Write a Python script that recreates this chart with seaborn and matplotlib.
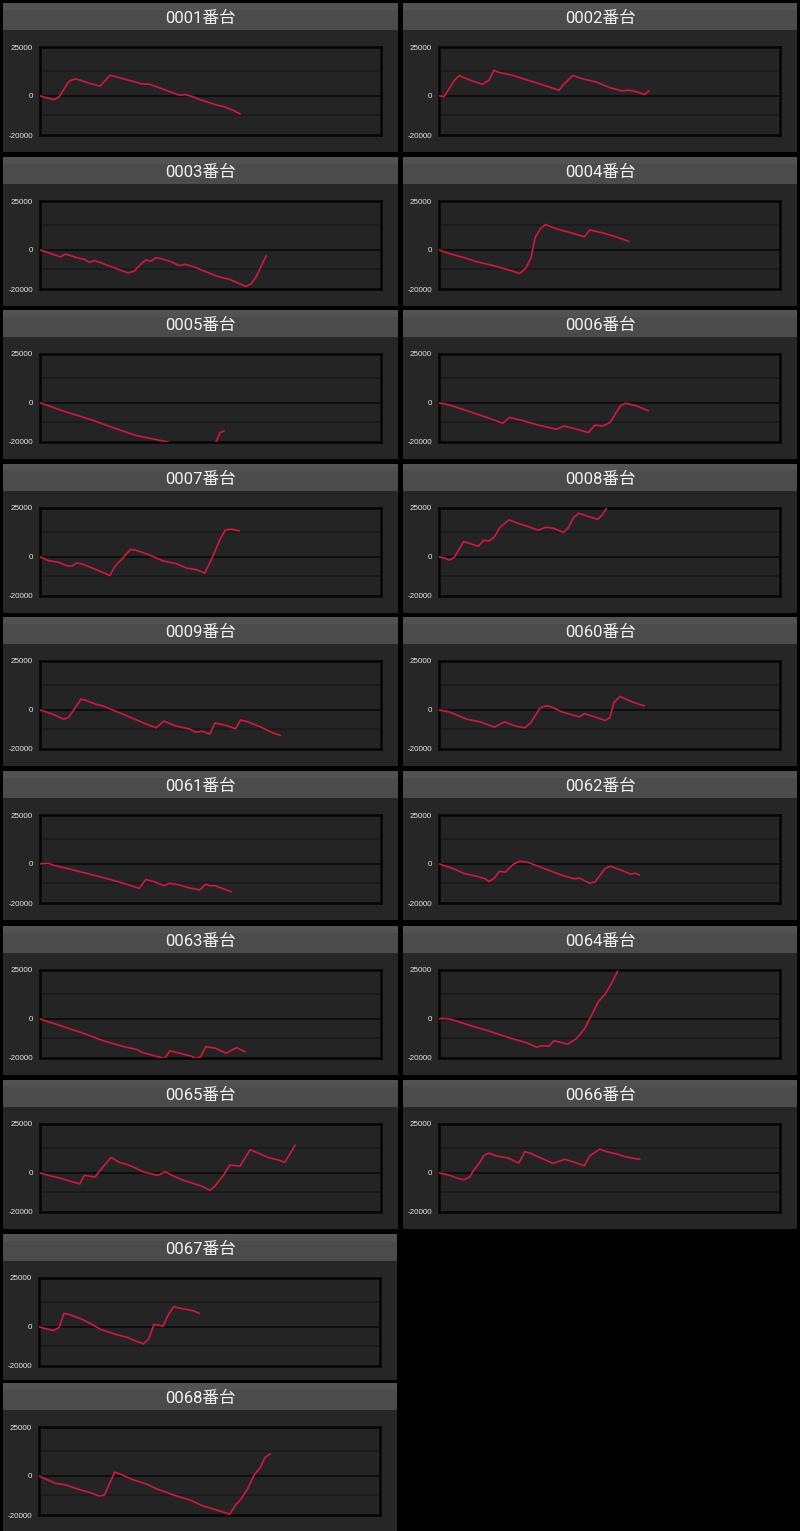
import matplotlib
matplotlib.use("Agg")
import matplotlib.pyplot as plt
from matplotlib.patches import Rectangle
import seaborn as sns
import pandas as pd

# ---------------- data ----------------
MACHINES = ["0001", "0002", "0003", "0004", "0005", "0006", "0007", "0008", "0009",
            "0060", "0061", "0062", "0063", "0064", "0065", "0066", "0067", "0068"]

X_0001 = [0, 2, 4.1, 5.6, 6.8, 8.6, 10.3, 11.7, 14.5, 17.6, 20.5, 22, 24.9, 27.4, 29.8, 32.3, 34.7, 38.1, 41.1, 42.5, 45, 46.9, 49.4, 51.8, 53.8, 56.7, 58.7]
Y_0001 = [0, -1000, -1900, -500, 2900, 7600, 8700, 8100, 6400, 5000, 10500, 9900, 8500, 7400, 6100, 5900, 4300, 2100, 300, 700, -500, -1900, -3300, -4700, -5400, -7400, -9200]

X_0002 = [0, 1.5, 4.6, 5.9, 9, 12.7, 14.7, 16.1, 17.8, 21.7, 24.6, 28.5, 31.5, 35.2, 36.8, 39.3, 42.2, 46.1, 50, 53.5, 55.9, 57.9, 60.3, 61.6]
Y_0002 = [0, -300, 8100, 10400, 8100, 5900, 8100, 13100, 11900, 10500, 8800, 6700, 5000, 2900, 6400, 10400, 8700, 7100, 4300, 2600, 2900, 2100, 700, 2600]

X_0003 = [0, 2.5, 6, 7.5, 10.8, 13, 14.5, 16, 20.5, 25.8, 27.6, 29.5, 31, 32.5, 34, 35.5, 38.5, 40.8, 42.6, 45.3, 48.3, 52, 55.8, 58.8, 60.3, 61.8, 63.3, 66.3]
Y_0003 = [0, -1400, -3600, -2100, -4000, -4800, -6400, -5400, -8300, -11800, -10900, -7400, -5200, -5700, -4000, -4500, -6100, -8000, -7400, -8800, -10900, -13500, -15200, -17500, -18700, -17500, -14000, -3100]

X_0004 = [0, 3, 6.7, 11.2, 16.5, 21.7, 23.7, 25.5, 27, 28.2, 29.7, 31.2, 34.5, 38.2, 42.7, 44.2, 47.9, 52.4, 55.7]
Y_0004 = [0, -1900, -3600, -6100, -8300, -10900, -12100, -9200, -4000, 6400, 10700, 13000, 10700, 9000, 6700, 10200, 8700, 6400, 4300]

X_0005 = [0, 2.5, 7, 12.3, 16.8, 22.8, 28, 32.5, 37.4, 44, 50.5, 51.6, 52.8, 54]
Y_0005 = [0, -1400, -4300, -7100, -9700, -13500, -16600, -18200, -20000, -23000, -25000, -20000, -15200, -14300]

X_0006 = [0, 3, 7.5, 13.5, 18.7, 20.7, 24, 29.2, 34.5, 36.7, 40.5, 43.8, 45.7, 48, 50.2, 53.2, 54.7, 57.7, 61.4]
Y_0006 = [0, -1000, -3600, -7100, -10400, -7400, -8800, -11400, -13500, -11800, -13500, -15200, -11400, -11800, -10000, -1400, -200, -1400, -4000]

X_0007 = [0, 2.5, 5.5, 7.8, 9.3, 10.8, 12.3, 16, 20.5, 22, 24.3, 26.5, 28, 31.8, 36.3, 40, 43, 46, 48.3, 50.5, 52.8, 54.3, 56, 58.5]
Y_0007 = [0, -1900, -2800, -4500, -4700, -3100, -3600, -6200, -9500, -4800, -500, 3800, 3500, 1200, -2200, -3500, -5700, -6600, -8300, -500, 9000, 13700, 14200, 13300]

X_0008 = [0, 1.5, 3, 4.5, 7.2, 9, 11.5, 13.1, 14.6, 16.1, 17.9, 20.5, 23.8, 26.8, 29.1, 31.3, 33.5, 36.5, 38, 39.5, 41, 44, 46.5, 47.7, 49.2]
Y_0008 = [0, -500, -1600, -200, 7800, 6900, 5400, 8500, 8100, 9900, 15100, 18900, 16800, 15100, 13700, 15100, 14700, 12500, 15100, 20200, 22300, 20600, 19200, 21100, 25000]

X_0009 = [0, 3.3, 7, 8.5, 12, 13.8, 16.8, 18.3, 24.3, 30.3, 34, 36.3, 40, 43.8, 45.6, 47.5, 49.8, 51.3, 54.3, 57.3, 58.8, 61, 64.8, 67.8, 70.5]
Y_0009 = [0, -1900, -4800, -3600, 5500, 4700, 2600, 2100, -2200, -6600, -9200, -5700, -8300, -9700, -11400, -10900, -12300, -6700, -7800, -9700, -5200, -6100, -8800, -11400, -13100]

X_0060 = [0, 3, 8.2, 12, 16.2, 19.2, 22.5, 25.1, 26.9, 29.6, 31.4, 32.9, 35.9, 41.1, 42.7, 46.4, 48.7, 50.1, 51.3, 53.1, 55.4, 57.6, 60.2]
Y_0060 = [0, -1000, -4800, -6100, -8800, -6100, -8300, -9200, -6600, 900, 2100, 1600, -900, -3600, -1900, -4000, -5400, -4000, 3800, 6900, 5000, 3500, 2100]

X_0061 = [0, 2.5, 4, 9.3, 14.5, 19.8, 25, 29.1, 31, 33.3, 36.3, 38.1, 40.8, 43.8, 46.8, 48.6, 49.8, 51.3, 54.3, 56.1]
Y_0061 = [0, 300, -700, -2900, -5200, -7600, -10200, -12500, -8000, -9000, -11100, -9900, -10700, -12300, -13300, -10400, -11200, -11100, -13100, -14200]

X_0062 = [0, 3.7, 7.5, 11.2, 13.5, 14.7, 16.2, 17.7, 19.5, 21.7, 23.7, 26.2, 31.5, 36.7, 39.7, 41.2, 44.2, 45.7, 48.7, 50.2, 53.2, 56.2, 57.7, 58.8]
Y_0062 = [0, -2100, -5000, -6400, -7600, -9000, -7300, -3800, -4200, -300, 1400, 700, -2800, -6200, -7600, -7300, -9900, -9300, -2400, -1200, -3100, -5200, -4800, -5700]

X_0063 = [0, 3.6, 6.6, 12.6, 18.6, 24.6, 28.4, 29.9, 33.6, 36.6, 38.1, 41.9, 44.1, 45.9, 47.1, 48.6, 51.6, 54.6, 57.6, 60.1]
Y_0063 = [0, -2100, -3800, -7300, -11200, -14200, -15600, -17100, -18900, -20200, -16300, -18000, -18900, -20200, -19400, -14200, -15100, -17600, -14700, -16800]

X_0064 = [0, 1.5, 3.7, 9, 15, 21, 25.5, 28.7, 30.2, 32.2, 33.7, 35.9, 37.7, 40.4, 42.7, 44.6, 46.7, 48.7, 50.6, 52.4]
Y_0064 = [0, 300, -300, -3300, -6400, -9900, -12100, -14500, -13700, -14000, -11200, -12100, -13000, -9900, -5000, 1400, 8700, 12600, 18200, 24400]

X_0065 = [0, 3.4, 5.9, 8.8, 11.7, 13, 14.7, 16.1, 18.1, 20.8, 23.5, 25.4, 27.9, 30.3, 32.3, 34.2, 35.2, 36.7, 38.6, 42, 44.5, 47.4, 49.8, 51.3, 53.8, 55.7, 58.7, 61.6, 66.9, 69.9, 71.8, 74.8]
Y_0065 = [0, -1700, -2600, -4200, -5600, -1200, -1700, -2100, 2300, 7900, 5200, 4400, 2600, 500, -300, -1200, -900, 700, -1200, -3800, -5100, -6800, -8900, -6800, -1200, 4000, 3500, 11900, 7900, 6600, 5400, 14100]

X_0066 = [0, 3.1, 5.1, 7.3, 9, 10, 11.9, 13.2, 14.6, 16.8, 20.3, 23.4, 25.2, 26.6, 30, 33.4, 36.9, 39.3, 42.6, 44.2, 47.2, 48.6, 52.5, 54.5, 58.9]
Y_0066 = [0, -1200, -2600, -3500, -2100, 900, 5200, 9000, 10100, 8700, 7600, 5000, 10800, 10200, 7500, 4900, 6900, 5700, 3600, 8700, 12200, 11100, 9500, 8300, 6900]

X_0067 = [0, 2, 4.2, 5.9, 7.3, 8.8, 12.2, 15.1, 18, 22, 25.9, 28.8, 30.7, 32.2, 33.7, 35.1, 36.4, 37.6, 39.5, 41.5, 45.4, 47]
Y_0067 = [0, -900, -1900, -300, 6900, 6400, 4200, 1700, -1200, -3600, -5400, -7500, -8700, -6100, 1200, 900, 300, 5200, 10400, 9500, 8200, 6900]

X_0068 = [0, 2, 4.9, 7.8, 12.2, 15.1, 17.6, 19.2, 20.7, 22.2, 23.9, 27.8, 31.7, 34.6, 39.5, 44.4, 48.3, 52.2, 55.9, 57.6, 59, 61, 63.1, 64.9, 66.3, 67.8]
Y_0068 = [0, -1700, -3800, -4600, -7200, -8600, -10300, -9800, -3800, 1900, 900, -2100, -4300, -6700, -9800, -12400, -15500, -17500, -19600, -14900, -12400, -7200, 500, 4300, 9500, 11300]

SERIES = {
    "0001": (X_0001, Y_0001), "0002": (X_0002, Y_0002), "0003": (X_0003, Y_0003),
    "0004": (X_0004, Y_0004), "0005": (X_0005, Y_0005), "0006": (X_0006, Y_0006),
    "0007": (X_0007, Y_0007), "0008": (X_0008, Y_0008), "0009": (X_0009, Y_0009),
    "0060": (X_0060, Y_0060), "0061": (X_0061, Y_0061), "0062": (X_0062, Y_0062),
    "0063": (X_0063, Y_0063), "0064": (X_0064, Y_0064), "0065": (X_0065, Y_0065),
    "0066": (X_0066, Y_0066), "0067": (X_0067, Y_0067), "0068": (X_0068, Y_0068),
}

Y_TICKS = [-20000, 0, 25000]
Y_TICK_LABELS = ["-20000", "0", "25000"]
Y_GRID = [-10000, 12500]

# ---------------- style ----------------
sns.set_theme(style="dark")
plt.rcParams['font.family'] = ['Roboto', 'Noto Sans CJK JP', 'DejaVu Sans']

W, H = 800, 1531
fig = plt.figure(figsize=(W / 100, H / 100), dpi=100, facecolor="black")

ROW_TITLE_Y = [18, 172, 325, 479, 632, 786, 941, 1095, 1249, 1398]
LINE_COLOR = "#d4173f"


def fx(px):
    return px / W


def fy(py):
    return 1 - py / H


def add_rect(x0, y0, x1, y1, color):
    fig.patches.append(Rectangle((fx(x0), fy(y1)), (x1 - x0) / W, (y1 - y0) / H,
                                 transform=fig.transFigure, facecolor=color,
                                 edgecolor="none", zorder=-5))


for i, name in enumerate(MACHINES):
    if i < 16:
        row, col = divmod(i, 2)
    else:
        row, col = 8 + (i - 16), 0
    ty = ROW_TITLE_Y[row]
    if col == 0:
        px0, px1 = 3, 398
        ax0, ax1 = 40, 381
    else:
        px0, px1 = 403, 797
        ax0, ax1 = 439, 780
    if row >= 8:
        px1 = 397
        ax0, ax1 = 39, 380
    body_end = ty + 134 if row != 8 else 1380
    # title bar and body
    add_rect(px0, ty - 15, px1, ty + 12, "#4b4b4b")
    add_rect(px0, ty - 15, px1, ty - 8, "#525252")
    add_rect(px0, ty + 12, px1, body_end, "#262626")
    fig.text(fx((px0 + px1) / 2), fy(ty + 0.5), f"{name}番台", ha="center", va="center",
             fontsize=12, color="#f2f2f2", zorder=5)

    top, bot = ty + 29, ty + 117
    ax = fig.add_axes([fx(ax0), fy(bot), (ax1 - ax0) / W, (bot - top) / H])
    ax.set_zorder(2)
    ax.set_facecolor("#242424")
    xs, ys = SERIES[name]
    df = pd.DataFrame({"x": xs, "y": ys})
    for g in Y_GRID:
        ax.axhline(g, color="#1a1a1a", lw=1.2, zorder=1)
    ax.axhline(0, color="#0e0e0e", lw=1.5, zorder=1)
    sns.lineplot(data=df, x="x", y="y", ax=ax, color=LINE_COLOR, lw=1.2,
                 sort=False, estimator=None, zorder=3)
    ax.set_xlim(0, 100)
    ax.set_ylim(-20000, 25000)
    ax.set_xticks([])
    ax.set_yticks(Y_TICKS)
    ax.set_yticklabels(Y_TICK_LABELS, family=["Liberation Sans", "DejaVu Sans"],
                       fontsize=5.8, color="#e6e6e6")
    ax.tick_params(axis="y", length=0, pad=5)
    ax.set_xlabel("")
    ax.set_ylabel("")
    ax.grid(False)
    for sp in ax.spines.values():
        sp.set_color("#050505")
        sp.set_linewidth(1.8)
        sp.set_visible(True)

fig.savefig("out.png", dpi=100, facecolor="black")
